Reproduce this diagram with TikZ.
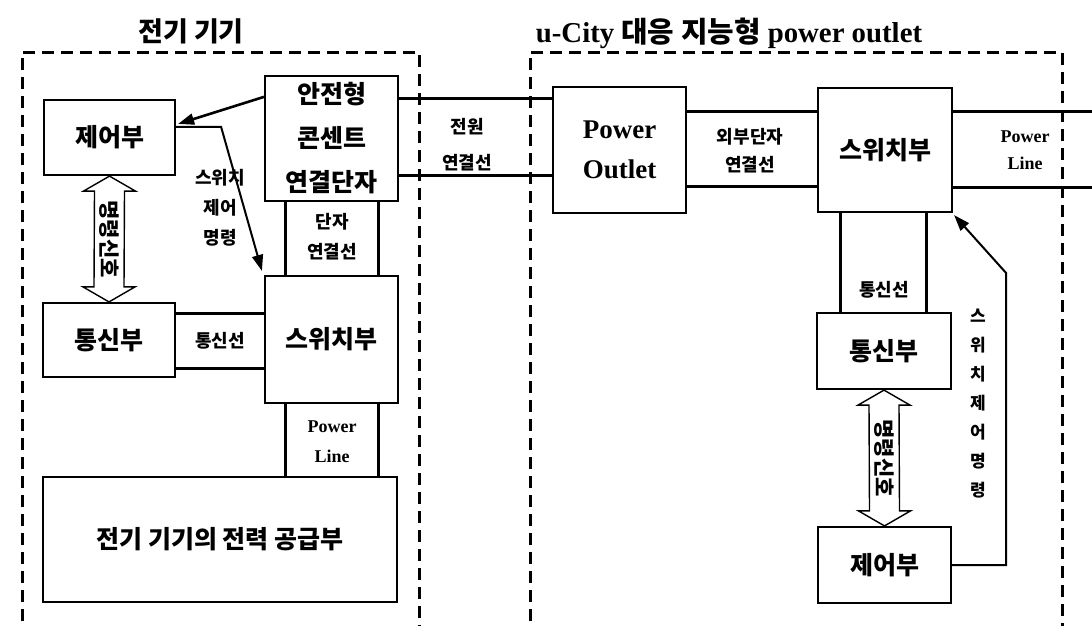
\documentclass[tikz,border=0pt]{standalone}
\usepackage{fontspec}
\setmainfont{Liberation Serif}
\newfontfamily\kr{Noto Sans CJK KR}
\usetikzlibrary{arrows.meta,calc}
\tikzset{
 box/.style={draw, line width=2.2pt, inner sep=0pt, align=center, font=\kr\bfseries\fontsize{25}{30}\selectfont},
 wire/.style={line width=3pt},
 frame/.style={line width=3pt, dash pattern=on 12pt off 7pt},
 lbl/.style={align=center, inner sep=0pt, font=\kr\bfseries\fontsize{18}{30}\selectfont},
 enlbl/.style={align=center, inner sep=0pt, font=\bfseries\fontsize{18}{30}\selectfont},
 hollow/.style={line width=1.4pt, fill=white},
 cmd/.style={line width=2.6pt, -{Triangle[length=16pt,width=11pt]}},
}
\begin{document}
\begin{tikzpicture}[x=1pt,y=-1pt]
\useasboundingbox (0,0) rectangle (1092,625);
\coordinate (edgeR) at (1092,0);
% frames
\draw[frame] (22,640) -- (22,52) -- (419,52) -- (419,640);
\draw[frame] (530,640) -- (530,52) -- (1062,52) -- (1062,640);
\node[inner sep=0pt, font=\kr\bfseries\fontsize{27}{30}\selectfont] (title1) at (191,31) {전기 기기};
\node[inner sep=0pt, font=\bfseries\fontsize{28.8}{30}\selectfont] (title2) at (729,33) {u-City {\kr 대응 지능형} power outlet};
% left device
\node[box, minimum width=131pt, minimum height=75pt] (ctrlL) at (109.5,137.5) {제어부};
\node[box, minimum width=133pt, minimum height=125pt, font=\kr\bfseries\fontsize{25}{44}\selectfont] (safe) at (331.5,138.5) {안전형\\콘센트\\연결단자};
\node[box, minimum width=133pt, minimum height=127pt] (swL) at (331.5,339.5) {스위치부};
\node[box, minimum width=132pt, minimum height=74pt] (commL) at (109,340) {통신부};
\node[box, minimum width=354pt, minimum height=125pt] (supply) at (220,539.5) {전기 기기의 전력 공급부};
% right outlet
\node[box, minimum width=133pt, minimum height=126pt, font=\bfseries\fontsize{27}{40}\selectfont] (PO) at (619.5,150) {Power\\Outlet};
\node[box, minimum width=134pt, minimum height=124pt] (swR) at (885,150) {스위치부};
\node[box, minimum width=134pt, minimum height=76pt] (commR) at (884,351) {통신부};
\node[box, minimum width=133pt, minimum height=76pt] (ctrlR) at (884.5,565) {제어부};
% wires
\draw[wire] ($(safe.south west)+(22,0)$) coordinate (a) -- (a |- swL.north);
\draw[wire] ($(safe.south east)+(-21,0)$) coordinate (a) -- (a |- swL.north);
\draw[wire] ($(swL.south west)+(22,0)$) coordinate (a) -- (a |- supply.north);
\draw[wire] ($(swL.south east)+(-21,0)$) coordinate (a) -- (a |- supply.north);
\draw[wire] ($(commL.north east)+(0,12)$) coordinate (a) -- (a -| swL.west);
\draw[wire] ($(commL.south east)+(0,-10)$) coordinate (a) -- (a -| swL.west);
\draw[wire] ($(safe.north east)+(0,24)$) coordinate (a) -- (a -| PO.west);
\draw[wire] ($(safe.north east)+(0,101)$) coordinate (a) -- (a -| PO.west);
\draw[wire] ($(PO.north east)+(0,26)$) coordinate (a) -- (a -| swR.west);
\draw[wire] ($(PO.north east)+(0,101)$) coordinate (a) -- (a -| swR.west);
\draw[wire] ($(swR.north east)+(0,25)$) coordinate (a) -- (a -| edgeR);
\draw[wire] ($(swR.north east)+(0,101)$) coordinate (a) -- (a -| edgeR);
\draw[wire] ($(swR.south west)+(24,0)$) coordinate (a) -- (a |- commR.north);
\draw[wire] ($(swR.south west)+(110,0)$) coordinate (a) -- (a |- commR.north);
% wire labels
\node[lbl] (l1) at (332,237) {단자\\연결선};
\node[enlbl] (l2) at (332,442) {Power\\Line};
\node[lbl] (l3) at (220,341) {통신선};
\node[lbl, font=\kr\bfseries\fontsize{18}{36}\selectfont] (l4) at (467,145) {전원\\연결선};
\node[lbl, font=\kr\bfseries\fontsize{18}{28}\selectfont] (l5) at (750,151) {외부단자\\연결선};
\node[enlbl, font=\bfseries\fontsize{18}{27}\selectfont] (l6) at (1025,150) {Power\\Line};
\node[lbl] (l7) at (884,290) {통신선};
% command arrows
\draw[cmd] ($(safe.north west)+(0,22)$) -- ($(ctrlL.north east)+(2,25)$);
\draw[cmd, line width=2pt] ($(ctrlL.north east)+(0,28)$) -- ++(45,0) -- ($(swL.north west)+(-2,-4)$);
\node[lbl] (l8) at (220,208) {스위치\\제어\\명령};
\draw[cmd, line width=2pt] (ctrlR.east) -- ++(54,0) -- ++(0,-292) -- ($(swR.south east)+(1,2)$);
\node[lbl, font=\kr\bfseries\fontsize{17}{29}\selectfont] (l9) at (978,404) {스\\위\\치\\제\\어\\명\\령};
% hollow double arrows
\coordinate (t1) at (ctrlL.south);
\coordinate (b1) at (commL.north);
\draw[hollow] (t1) -- ++(26,15) -- ++(-11,0) -- ($(b1)+(15,-15)$) -- ++(11,0) -- (b1) -- ++(-26,-15) -- ++(11,0) -- ($(t1)+(-15,15)$) -- ++(-11,0) -- cycle;
\node[lbl, rotate=-90, font=\kr\bfseries\fontsize{21}{22}\selectfont] (d1) at ($(t1)!0.5!(b1)$) {명령신호};
\coordinate (t2) at (commR.south);
\coordinate (b2) at (ctrlR.north);
\draw[hollow] (t2) -- ++(26,15) -- ++(-11,0) -- ($(b2)+(15,-15)$) -- ++(11,0) -- (b2) -- ++(-26,-15) -- ++(11,0) -- ($(t2)+(-15,15)$) -- ++(-11,0) -- cycle;
\node[lbl, rotate=-90, font=\kr\bfseries\fontsize{21}{22}\selectfont] (d2) at ($(t2)!0.5!(b2)$) {명령신호};
\end{tikzpicture}
\end{document}
